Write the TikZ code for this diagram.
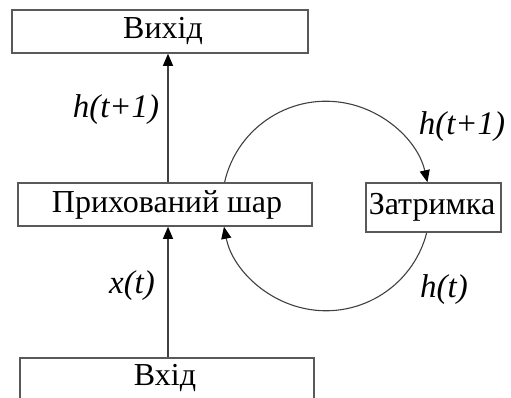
\documentclass[tikz,border=0pt]{standalone}
\usepackage{fontspec}
\setmainfont{Liberation Serif}
\usetikzlibrary{arrows.meta,calc}
\tikzset{
  boxln/.style={draw=black!65, line width=1.6pt},
  box/.style={boxln, rectangle, inner sep=0pt, font=\fontsize{32}{34}\selectfont, fill=white},
  txt/.style={font=\fontsize{32}{34}\selectfont, inner sep=0pt},
  conn/.style={draw=black!75, line width=1.1pt, -{Triangle[length=12pt,width=10pt,fill=black,color=black]}},
  lbl/.style={font=\fontsize{33}{35}\selectfont\itshape, inner sep=0pt}
}
\begin{document}
\begin{tikzpicture}[x=1pt,y=1pt]
\useasboundingbox (0,0) rectangle (511,398);
\node[box, minimum width=296pt, minimum height=43pt] (out) at (160,366.5) {};
\node[txt] (outt) at (163,367) {Вихід};
\node[box, minimum width=294pt, minimum height=43pt] (hid) at (165,193.5) {};
\node[txt] (hidt) at (167,193) {Прихований шар};
\node[box, minimum width=135pt, minimum height=49pt] (del) at (433.5,190.5) {};
\node[txt] (delt) at (432,191) {Затримка};
\node[box, minimum width=294pt, minimum height=43pt] (inp) at (167,18.5) {};
\node[txt] (inpt) at (165,20) {Вхід};
\coordinate (xa) at (168,0);
\draw[conn] (inp.north -| xa) -- (hid.south -| xa);
\draw[conn] (hid.north -| xa) -- (out.south -| xa);
\coordinate (c) at (326,192);
\coordinate (s1) at ($(c)+(167.2:104)$);
\draw[conn] (hid.north -| s1) arc[start angle=167.2, end angle=12.8, radius=104];
\coordinate (s2) at ($(c)+(-14.5:104)$);
\draw[conn] (del.south -| s2) arc[start angle=-14.5, end angle=-168.9, radius=104];
\node[lbl] (l1) at (116,288) {h(t+1)};
\node[lbl] (l2) at (132,112) {x(t)};
\node[lbl] (l3) at (462,271) {h(t+1)};
\node[lbl] (l4) at (444,108) {h(t)};
\end{tikzpicture}
\end{document}
